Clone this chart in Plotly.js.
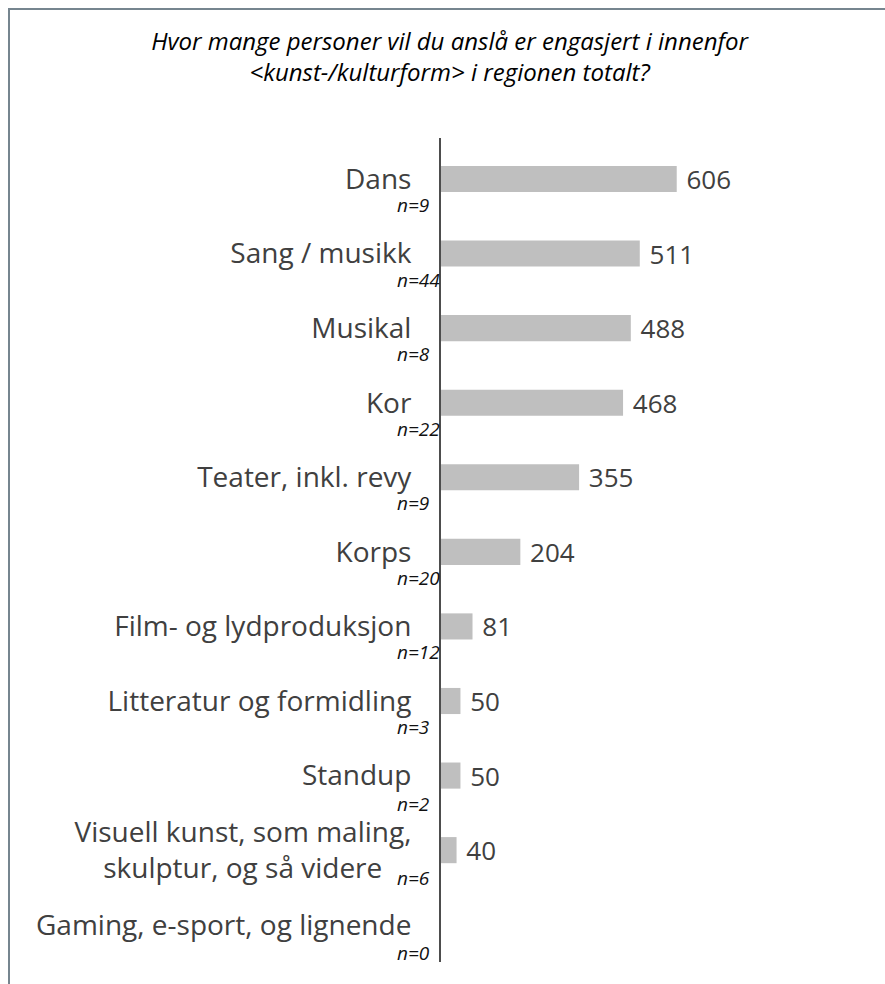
<!DOCTYPE html>
<html>
<head>
<meta charset="utf-8">
<script src="https://cdn.plot.ly/plotly-3.0.1.min.js"></script>
<style>
  body { margin: 0; background: #ffffff; }
  #wrap { position: relative; width: 885px; height: 984px; overflow: hidden; }
  #chart { width: 885px; height: 984px; }
  /* frame of the original slide box: only top and left edges are visible */
  #frame {
    position: absolute; left: 8px; top: 8px; width: 900px; height: 1000px;
    border-left: 2px solid #76858f; border-top: 2px solid #76858f;
    pointer-events: none;
  }
</style>
</head>
<body>
<div id="wrap">
  <div id="chart"></div>
  <div id="frame"></div>
</div>
<script>
// Chart data
const categories = [
  'Dans', 'Sang / musikk', 'Musikal', 'Kor', 'Teater, inkl. revy', 'Korps',
  'Film- og lydproduksjon', 'Litteratur og formidling', 'Standup',
  'Visuell kunst, som maling, skulptur, og så videre',
  'Gaming, e-sport, og lignende'
];
// second line of the long label is padded so "n=6" fits after it
const tickLabels = [
  'Dans', 'Sang / musikk', 'Musikal', 'Kor', 'Teater, inkl. revy', 'Korps',
  'Film- og lydproduksjon', 'Litteratur og formidling', 'Standup',
  'Visuell kunst, som maling,<br>skulptur, og så videre\u00a0\u00a0\u00a0\u00a0',
  'Gaming, e-sport, og lignende'
];
const values = [606, 511, 488, 468, 355, 204, 81, 50, 50, 40, null];
const nCounts = [9, 44, 8, 22, 9, 20, 12, 3, 2, 6, 0];

const titleText = 'Hvor mange personer vil du anslå er engasjert i innenfor<br>' +
  '&lt;kunst-/kulturform&gt; i regionen totalt?';

const FONT = '"Open Sans", Lato, sans-serif';
const labelColor = '#404040';

const trace = {
  type: 'bar',
  orientation: 'h',
  x: values,
  y: categories,
  marker: { color: '#bfbfbf' },
  text: values.map(v => (v == null ? '' : '\u00a0' + v)),
  textposition: 'outside',
  textangle: 0,
  constraintext: 'none',
  cliponaxis: false,
  textfont: { family: FONT, size: 26, color: labelColor },
  hoverinfo: 'skip'
};

// n= counts under each category label
const annotations = categories.map((c, i) => ({
  x: 0,
  xref: 'x',
  y: c,
  yref: 'y',
  text: 'n=' + nCounts[i],
  showarrow: false,
  xanchor: 'left',
  yanchor: 'middle',
  xshift: -46,
  yshift: i >= 8 ? -28 : -26,
  font: { family: FONT, size: 19, color: '#111111', style: 'italic' }
}));

const layout = {
  width: 885,
  height: 984,
  paper_bgcolor: '#ffffff',
  plot_bgcolor: '#ffffff',
  margin: { l: 441, r: 20, t: 138, b: 22 },
  showlegend: false,
  bargap: 0.65,
  title: {
    text: titleText,
    x: 0.508,
    xref: 'container',
    xanchor: 'center',
    y: 0.949,
    yref: 'container',
    yanchor: 'top',
    font: { family: FONT, size: 24, color: '#000000', style: 'italic' }
  },
  xaxis: {
    range: [0, 1090],
    visible: false,
    fixedrange: true
  },
  yaxis: {
    type: 'category',
    autorange: 'reversed',
    tickvals: categories,
    ticktext: tickLabels,
    showline: true,
    linecolor: '#4d4d4d',
    linewidth: 2,
    showgrid: false,
    zeroline: false,
    ticks: 'outside',
    ticklen: 22,
    tickcolor: 'rgba(0,0,0,0)',
    tickfont: { family: FONT, size: 28, color: labelColor },
    fixedrange: true
  },
  annotations: annotations
};

Plotly.newPlot('chart', [trace], layout, { displayModeBar: false, staticPlot: true });
</script>
</body>
</html>
